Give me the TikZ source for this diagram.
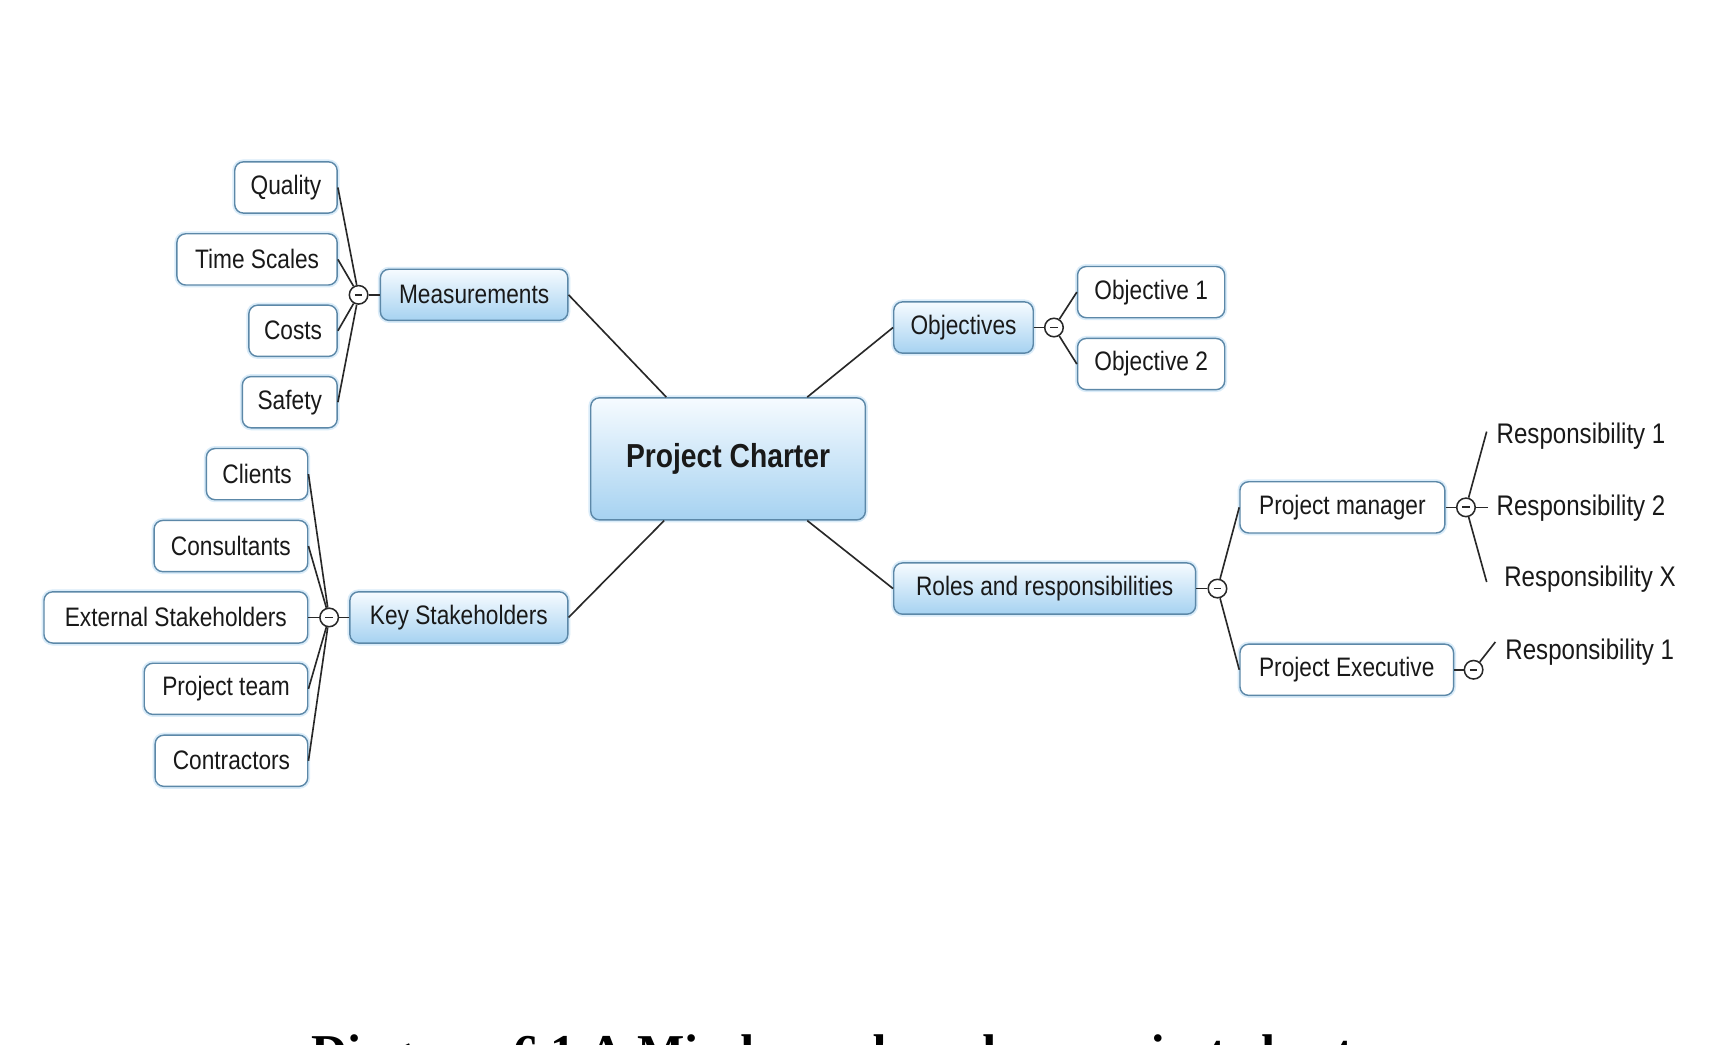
\documentclass[tikz,border=0pt]{standalone}
\usepackage{fontspec}
\setmainfont{Liberation Sans}[FakeStretch=0.85]
\newfontfamily\captionfont{Liberation Serif}
\usepackage{xcolor}
\definecolor{boxline}{RGB}{92,136,168}
\definecolor{glow}{RGB}{218,236,249}
\definecolor{topblue}{RGB}{246,251,255}
\definecolor{botblue}{RGB}{166,210,241}
\definecolor{linkgrey}{RGB}{40,40,40}
\definecolor{ink}{RGB}{25,25,25}

\tikzset{
    leaf/.style={draw=boxline, line width=1.3pt, fill=white, rounded corners=8pt, minimum height=47pt, inner xsep=12pt, text=ink, font=\fontsize{24.5}{28}\selectfont, preaction={draw=glow, line width=4.5pt}},
    branch/.style={leaf, top color=topblue, bottom color=botblue},
    hub/.style={circle, draw=linkgrey, line width=1.4pt, fill=white, minimum size=17pt, inner sep=0pt, path picture={\draw[line width=1.6pt] ([xshift=-3.5pt]path picture bounding box.center) -- ([xshift=3.5pt]path picture bounding box.center);}},
    link/.style={draw=linkgrey, line width=1.5pt},
    resp/.style={anchor=west, inner sep=2pt, text=ink, font=\fontsize{26}{30}\selectfont}
}

\begin{document}
\begin{tikzpicture}[x=1pt, y=-1pt]
    \fill[white] (0,0) rectangle (1568,958);
    \useasboundingbox (0,0) rectangle (1568,958);

    \node[branch, minimum width=252pt, minimum height=112pt, font=\fontsize{30.5}{34}\selectfont\bfseries] (charter) at (668,421) {Project Charter};
    \node[branch, minimum width=172pt] (meas) at (435,270.5) {Measurements};
    \node[branch, minimum width=200pt] (keys) at (421,566.5) {Key Stakeholders};
    \node[branch, minimum width=128pt] (objs) at (884,300.5) {Objectives};
    \node[branch, minimum width=277pt] (roles) at (958.5,540) {Roles and responsibilities};

    \node[hub] (mhub) at (329,270.5) {};
    \node[hub] (khub) at (302,566.5) {};
    \node[hub] (ohub) at (967,300.5) {};
    \node[hub] (rhub) at (1117,540) {};
    \node[hub] (pmhub) at (1345,465.5) {};
    \node[hub] (pehub) at (1352,614.5) {};

    \node[leaf, anchor=east, minimum width=94pt] (quality) at (310,172) {Quality};
    \node[leaf, anchor=east, minimum width=147pt] (time) at (310,238) {Time Scales};
    \node[leaf, anchor=east, minimum width=81pt] (costs) at (310,303.5) {Costs};
    \node[leaf, anchor=east, minimum width=87pt] (safety) at (310,369) {Safety};

    \node[leaf, anchor=east, minimum width=93pt] (clients) at (283,435) {Clients};
    \node[leaf, anchor=east, minimum width=141pt] (consult) at (283,501) {Consultants};
    \node[leaf, anchor=east, minimum width=242pt] (external) at (283,566.5) {External Stakeholders};
    \node[leaf, anchor=east, minimum width=150pt] (team) at (283,632) {Project team};
    \node[leaf, anchor=east, minimum width=140pt] (contract) at (283,698) {Contractors};

    \node[leaf, anchor=west, minimum width=135pt] (obj1) at (988,268) {Objective 1};
    \node[leaf, anchor=west, minimum width=135pt] (obj2) at (988,334) {Objective 2};

    \node[leaf, anchor=west, minimum width=188pt] (pm) at (1137,465.5) {Project manager};
    \node[leaf, anchor=west, minimum width=196pt] (pe) at (1137,614.5) {Project Executive};

    \node[resp] (r1) at (1371,400) {Responsibility 1};
    \node[resp] (r2) at (1371,466) {Responsibility 2};
    \node[resp] (rx) at (1378,531) {Responsibility X};
    \node[resp] (r4) at (1379,598) {Responsibility 1};
    \coordinate (r1end) at (1364,396);
    \coordinate (r2end) at (1365,465.5);
    \coordinate (rxend) at (1364,534);
    \coordinate (r4end) at (1372,589);

    \draw[link] (meas.east) -- ([xshift=70pt]charter.north west);
    \draw[link] (objs.west) -- ([xshift=-54pt]charter.north east);
    \draw[link] (keys.east) -- ([xshift=68pt]charter.south west);
    \draw[link] (roles.west) -- ([xshift=-54pt]charter.south east);

    \draw[link] (meas) -- (mhub);
    \draw[link] (mhub) -- (quality.east);
    \draw[link] (mhub) -- (time.east);
    \draw[link] (mhub) -- (costs.east);
    \draw[link] (mhub) -- (safety.east);

    \draw[link] (keys) -- (khub);
    \draw[link] (khub) -- (clients.east);
    \draw[link] (khub) -- (consult.east);
    \draw[link] (khub) -- (external.east);
    \draw[link] (khub) -- (team.east);
    \draw[link] (khub) -- (contract.east);

    \draw[link] (objs) -- (ohub);
    \draw[link] (ohub) -- (obj1.west);
    \draw[link] (ohub) -- (obj2.west);

    \draw[link] (roles) -- (rhub);
    \draw[link] (rhub) -- (pm.west);
    \draw[link] (rhub) -- (pe.west);

    \draw[link] (pm) -- (pmhub);
    \draw[link] (pmhub) -- (r1end);
    \draw[link] (pmhub) -- (r2end);
    \draw[link] (pmhub) -- (rxend);
    \draw[link] (pe) -- (pehub);
    \draw[link] (pehub) -- (r4end);

    \node[anchor=base, text=black, font=\captionfont\bfseries\fontsize{46}{50}\selectfont] (caption) at (784,981) {Diagram 6.1 A Mind map based on project charter};
\end{tikzpicture}
\end{document}
